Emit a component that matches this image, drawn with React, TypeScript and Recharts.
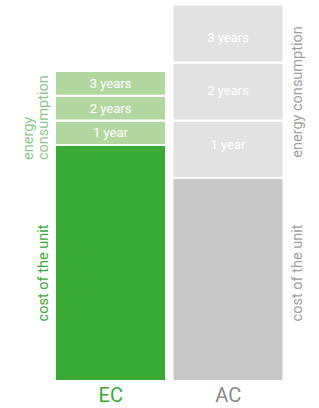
import React from 'react';
import { BarChart, Bar, XAxis, YAxis, Cell, LabelList } from 'recharts';

const categories = ['EC', 'AC'];
const unitCost = [236, 203];
const year1 = [24.6, 57.6];
const year2 = [24.6, 57.8];
const year3 = [24.8, 58.2];
const yearLabels = ['1 year', '2 years', '3 years'];
const sideLabelCost = 'cost of the unit';
const sideLabelEnergy = ['energy', 'consumption'];

const baseColors = ['#3aaa35', '#c8c8c8'];
const yearColors = ['#b3d7a0', '#e2e2e2'];
const tickColors = ['#3aaa35', '#8a8a8a'];
// vertical nudges of the year labels inside the tall AC segments
const acLabelNudge = [-4.5, -1, 3.5];

const data = categories.map((name, i) => ({
  name,
  cost: unitCost[i],
  y1: year1[i],
  y2: year2[i],
  y3: year3[i],
  l1: yearLabels[0],
  l2: yearLabels[1],
  l3: yearLabels[2],
}));

const FONT = 'Roboto, sans-serif';

const Tick = (props: any) => {
  const { x, y, payload } = props;
  const idx = categories.indexOf(payload.value);
  return (
    <text x={x} y={y} dy={13} textAnchor="middle" fill={tickColors[idx]} fontSize={20} fontFamily={FONT}>
      {payload.value}
    </text>
  );
};

const makeLabel = (j: number) => (props: any) => {
  const { x, y, width, height, value, index } = props;
  const nudge = index === 1 ? acLabelNudge[j] : 0;
  return (
    <text
      x={Number(x) + Number(width) / 2}
      y={Number(y) + Number(height) / 2 + nudge}
      textAnchor="middle"
      dominantBaseline="central"
      fill="#fff"
      fontSize={13}
      fontFamily={FONT}
    >
      {value}
    </text>
  );
};

export default function App() {
  const yearKeys = ['y1', 'y2', 'y3'];
  const labelKeys = ['l1', 'l2', 'l3'];
  return (
    <div style={{ position: 'absolute', left: 0, top: 0, width: 319, height: 408 }}>
      <BarChart
        width={319}
        height={408}
        data={data}
        margin={{ top: 4, right: 32, bottom: 0, left: 52 }}
        barSize={111}
      >
        <XAxis dataKey="name" axisLine={false} tickLine={false} height={27} tick={<Tick />} interval={0} />
        <YAxis hide domain={[0, 377]} />
        <Bar dataKey="cost" stackId="a" stroke="#fff" strokeWidth={2} isAnimationActive={false}>
          {data.map((d, i) => (
            <Cell key={d.name} fill={baseColors[i]} />
          ))}
        </Bar>
        {yearKeys.map((k, j) => (
          <Bar key={k} dataKey={k} stackId="a" stroke="#fff" strokeWidth={2} isAnimationActive={false}>
            {data.map((d, i) => (
              <Cell key={d.name} fill={yearColors[i]} />
            ))}
            <LabelList dataKey={labelKeys[j]} content={makeLabel(j)} />
          </Bar>
        ))}
      </BarChart>
      <svg
        width={319}
        height={408}
        style={{ position: 'absolute', left: 0, top: 0, pointerEvents: 'none' }}
        fontFamily={FONT}
        fontSize={14.5}
      >
        <text transform="translate(28,160) rotate(-90)" textAnchor="start" dominantBaseline="central" fill="#8cc788">
          {sideLabelEnergy[0]}
        </text>
        <text transform="translate(43,160) rotate(-90)" textAnchor="start" dominantBaseline="central" fill="#8cc788">
          {sideLabelEnergy[1]}
        </text>
        <text transform="translate(43,273) rotate(-90)" textAnchor="middle" dominantBaseline="central" fill="#3aaa35">
          {sideLabelCost}
        </text>
        <text transform="translate(297,92) rotate(-90)" textAnchor="middle" dominantBaseline="central" fill="#a0a0a0">
          {sideLabelEnergy.join(' ')}
        </text>
        <text transform="translate(297,273) rotate(-90)" textAnchor="middle" dominantBaseline="central" fill="#a0a0a0">
          {sideLabelCost}
        </text>
      </svg>
    </div>
  );
}
